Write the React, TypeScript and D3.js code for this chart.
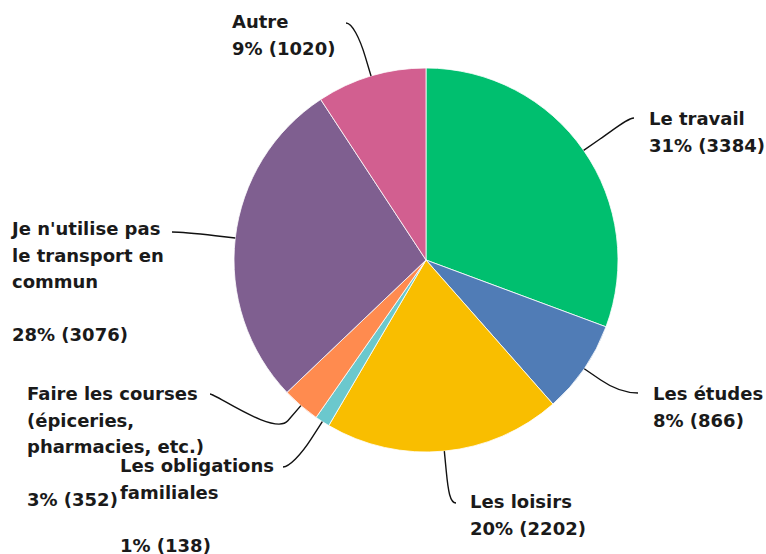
import React from "react";
import * as d3 from "d3";

const categories = [
  "Le travail",
  "Les études",
  "Les loisirs",
  "Les obligations familiales",
  "Faire les courses (épiceries, pharmacies, etc.)",
  "Je n'utilise pas le transport en commun",
  "Autre",
];
const counts = [3384, 866, 2202, 138, 352, 3076, 1020];
const colors = ["#00bf6f", "#507cb6", "#f9be00", "#6bc8cd", "#ff8b4f", "#7f5f90", "#d25f90"];
// wrapped label lines (text only)
const labelLines = [
  ["Le travail"],
  ["Les études"],
  ["Les loisirs"],
  ["Les obligations", "familiales"],
  ["Faire les courses", "(épiceries,", "pharmacies, etc.)"],
  ["Je n'utilise pas", "le transport en", "commun"],
  ["Autre"],
];

// layout: text position (first baseline) and connector end point
const labelLayout = [
  { x: 649, y: 125, ax: 634, ay: 118, side: 1 },
  { x: 653, y: 400, ax: 638, ay: 393, side: 1 },
  { x: 470, y: 508, ax: 456, ay: 503, side: 1 },
  { x: 120, y: 472, ax: 283, ay: 467, side: -1 },
  { x: 27, y: 400, ax: 210, ay: 394, side: -1 },
  { x: 12, y: 235, ax: 172, ay: 232, side: -1 },
  { x: 232, y: 28, ax: 346, ay: 23, side: -1 },
];

const W = 766;
const H = 554;
const CX = 426;
const CY = 260;
const R = 192;
const LINE_H = 26.5;
const BREAK = 20;

export default function App() {
  const total = d3.sum(counts);
  const pie = d3
    .pie<number>()
    .sort(null)
    .value((d) => d)
    .startAngle(0)
    .endAngle(2 * Math.PI);
  const arcs = pie(counts);
  const arcGen = d3.arc<d3.PieArcDatum<number>>().innerRadius(0).outerRadius(R);

  return (
    <svg
      width={W}
      height={H}
      style={{ position: "absolute", left: 0, top: 0, background: "#fff" }}
      fontFamily="'DejaVu Sans', sans-serif"
    >
      <g transform={`translate(${CX},${CY})`}>
        {arcs.map((a, i) => (
          <path key={i} d={arcGen(a) || ""} fill={colors[i]} stroke="#fff" strokeWidth={0.8} />
        ))}
      </g>
      {arcs.map((a, i) => {
        const mid = (a.startAngle + a.endAngle) / 2;
        const ux = Math.sin(mid);
        const uy = -Math.cos(mid);
        const tx = CX + R * ux;
        const ty = CY + R * uy;
        const bx = tx + BREAK * ux;
        const by = ty + BREAK * uy;
        const c2x = bx + BREAK * ux;
        const c2y = by + BREAK * uy;
        const L = labelLayout[i];
        const c1x = L.ax - L.side * 6;
        const path = `M${tx},${ty}L${bx},${by}C${c2x},${c2y} ${c1x},${L.ay} ${L.ax},${L.ay}`;
        return <path key={"c" + i} d={path} fill="none" stroke="#111" strokeWidth={1.4} />;
      })}
      {arcs.map((a, i) => {
        const L = labelLayout[i];
        const pct = `${Math.round((counts[i] / total) * 100)}% (${counts[i]})`;
        const lines = labelLines[i].length > 1 ? [...labelLines[i], "", pct] : [...labelLines[i], pct];
        return (
          <text
            key={"t" + i}
            x={L.x}
            y={L.y}
            fontSize={18}
            fontWeight={700}
            fill="#1a1a1a"
          >
            {lines.map((ln, j) => (
              <tspan key={j} x={L.x} y={L.y + j * LINE_H}>
                {ln}
              </tspan>
            ))}
          </text>
        );
      })}
    </svg>
  );
}
